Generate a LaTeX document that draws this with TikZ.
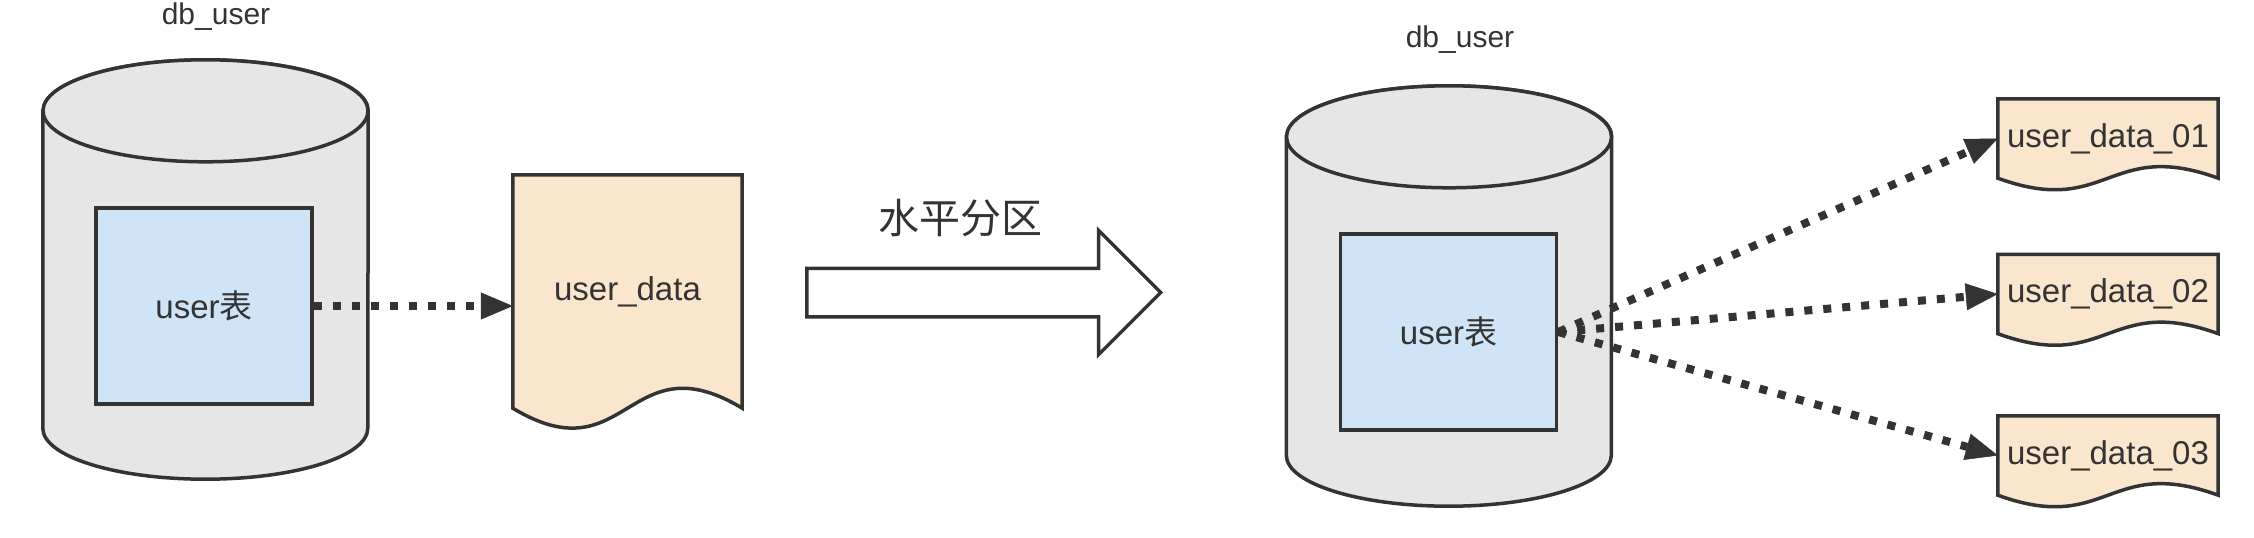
\documentclass[tikz,border=0pt]{standalone}
\usepackage{fontspec}
\setmainfont{Liberation Sans}
\newfontfamily\cjk{Noto Sans CJK SC}
\usepackage{tikz}
\usetikzlibrary{calc}
\usetikzlibrary{backgrounds}
\usetikzlibrary{shapes.arrows, positioning, calc, arrows.meta}
\definecolor{linegray}{HTML}{333333}
\definecolor{dbgray}{HTML}{E6E6E6}
\definecolor{tblblue}{HTML}{D0E4F8}
\definecolor{docpeach}{HTML}{FAE5CD}
\tikzstyle{dbbox} = [rectangle, inner sep=0pt, minimum width=325pt]
\tikzstyle{dbline} = [draw=linegray, fill=dbgray, line width=3.5pt]
\tikzstyle{tblbox} = [rectangle, minimum width=216pt, minimum height=196pt, text centered, draw=linegray, fill=tblblue, line width=3.5pt, text=linegray, font=\fontsize{33}{40}\selectfont]
\tikzstyle{docbox} = [rectangle, inner sep=0pt, text=linegray, font=\fontsize{33}{40}\selectfont]
\tikzstyle{docline} = [draw=linegray, fill=docpeach, line width=3.5pt]
\tikzstyle{lbltext} = [text=linegray, font=\fontsize{30}{36}\selectfont]
\tikzstyle{bigarrow} = [single arrow, draw=linegray, fill=white, line width=3.5pt, minimum height=354pt, minimum width=121pt, single arrow head extend=38pt, inner xsep=0pt, inner ysep=22.5pt]
\tikzstyle{dotarrow} = [linegray, line width=8pt, dash pattern=on 8pt off 11pt, -{Triangle[length=32pt,width=27pt,line width=0.5pt]}]
% cylinder drawn round an invisible box
\newcommand{\dbcylinder}[1]{%
  \path[dbline] ($(#1.north west)+(0,51)$) -- ($(#1.south west)+(0,-51)$)
    arc[start angle=180, end angle=360, x radius=162.5pt, y radius=51pt]
    -- ($(#1.north east)+(0,51)$)
    arc[start angle=0, end angle=180, x radius=162.5pt, y radius=51pt] -- cycle;
  \draw[dbline] ($(#1.north)+(0,51)$) ellipse [x radius=162.5pt, y radius=51pt];}
% document with a wavy bottom
\newcommand{\docshape}[3]{%
  \path[docline] (#1.north west) -- (#1.north east) -- (#1.south east)
    .. controls +(-0.5*#2,-#3) and +(0.5*#2,#3) .. (#1.south west) -- cycle;}

\begin{document}
\begin{tikzpicture}[x=1pt, y=-1pt]
\useasboundingbox (0,0) rectangle (2254,538);
% before
\node (db1) [dbbox, minimum height=419pt] at (205.5,269.5) {};
\node (lbl1) [lbltext] at (216,17) {db\_user};
\node (tbl1) [tblbox] at (204,306) {user{\cjk 表}};
\node (doc0) [docbox, minimum width=229pt, minimum height=233pt] at (627.5,291.5) {user\_data};
% partition
\node (split) [bigarrow, anchor=tail] at (805,292.5) {};
\node (splitlbl) [lbltext, font=\fontsize{41}{48}\selectfont] at (960,218) {\cjk 水平分区};
% after
\node (db2) [dbbox, minimum height=420pt] at (1449,296) {};
\node (lbl2) [lbltext] at (1460,40) {db\_user};
\node (tbl2) [tblbox] at (1448.5,332) {user{\cjk 表}};
\node (doc1) [docbox, minimum width=220pt, minimum height=79pt] at (2108,138.5) {user\_data\_01};
\node (doc2) [docbox, minimum width=220pt, minimum height=79pt] at (2108,294) {user\_data\_02};
\node (doc3) [docbox, minimum width=220pt, minimum height=79pt] at (2108,455.5) {user\_data\_03};
\begin{scope}[on background layer]
\dbcylinder{db1}
\dbcylinder{db2}
\docshape{doc0}{229}{69}
\docshape{doc1}{220}{40}
\docshape{doc2}{220}{40}
\docshape{doc3}{220}{40}
\end{scope}
\draw [dotarrow] (tbl1.east) -- (tbl1.east -| doc0.west);
\draw [dotarrow] (tbl2.east) -- (doc1.west);
\draw [dotarrow] (tbl2.east) -- (doc2.west);
\draw [dotarrow] (tbl2.east) -- (doc3.west);
\end{tikzpicture}
\end{document}
